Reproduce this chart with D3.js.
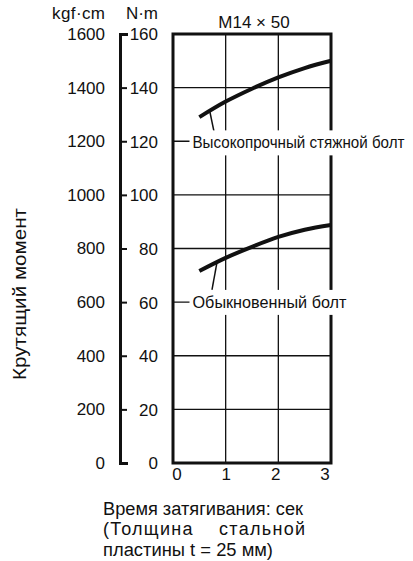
<!DOCTYPE html>
<html><head><meta charset="utf-8">
<script src="https://cdn.jsdelivr.net/npm/d3@7"></script>
<style>body{margin:0;background:#fff}svg{display:block}text{font-family:"Liberation Sans",Arial,sans-serif;fill:#111}</style>
</head><body><svg id="c" width="413" height="561"></svg>
<script>
const times = [0.5, 1, 1.5, 2, 2.5, 3];
const highStrength = [129, 134.8, 139.6, 143.8, 147.3, 150];
const ordinary = [71.6, 76.5, 80.6, 84.3, 87, 88.8];
const nmTicks = [0, 20, 40, 60, 80, 100, 120, 140, 160];
const kgfTicks = [0, 200, 400, 600, 800, 1000, 1200, 1400, 1600];
const xTicks = [0, 1, 2, 3];
const seriesLabels = ["Высокопрочный стяжной болт", "Обыкновенный болт"];
const labelPos = [{t: 0.37, v: 119.5, from: [0.7, 131], to: [0.78, 123.5]},
                  {t: 0.37, v: 60, from: [0.83, 74.3], to: [0.74, 64.6]}];
const title = "M14 × 50";
const yTitle = "Крутящий момент";
const xTitleLines = ["Время затягивания: сек", "(Толщина    стальной", "пластины t = 25 мм)"];

const FS = "17px";
const svg = d3.select("#c");
const x = d3.scaleLinear().domain([0, 3]).range([173, 331]);
const y = d3.scaleLinear().domain([0, 160]).range([463, 34]);
const yK = d3.scaleLinear().domain([0, 1600]).range([463, 34]);

// grid
const g = svg.append("g");
g.selectAll(".gx").data([1, 2]).join("line")
  .attr("x1", d => x(d)).attr("x2", d => x(d)).attr("y1", y(0)).attr("y2", y(160))
  .attr("stroke", "#111").attr("stroke-width", 1.3);
g.selectAll(".gy").data(nmTicks.filter(d => d > 0 && d < 160)).join("line")
  .attr("x1", x(0)).attr("x2", x(3)).attr("y1", d => y(d)).attr("y2", d => y(d))
  .attr("stroke", "#111").attr("stroke-width", 1.3);
g.append("rect").attr("x", x(0)).attr("y", y(160)).attr("width", x(3) - x(0)).attr("height", y(0) - y(160))
  .attr("fill", "none").attr("stroke", "#111").attr("stroke-width", 3);

// left axis
const ax = svg.append("g").attr("transform", "translate(120,0)")
  .call(d3.axisRight(y).tickValues(nmTicks).tickSizeInner(7).tickSizeOuter(8).tickFormat(d3.format("d")));
ax.select(".domain").attr("stroke", "#111").attr("stroke-width", 3);
ax.selectAll(".tick line").attr("stroke", "#111").attr("stroke-width", 2);
ax.selectAll(".tick text").attr("x", 38).attr("text-anchor", "end").attr("dy", "0.35em")
  .style("font-size", FS).style("font-family", '"Liberation Sans",Arial,sans-serif').attr("fill", "#111");

svg.append("g").selectAll("text").data(kgfTicks).join("text")
  .attr("x", 105).attr("y", d => yK(d)).attr("dy", "0.35em").attr("text-anchor", "end")
  .style("font-size", FS).text(d => d);

svg.append("text").attr("x", 105).attr("y", 19).attr("text-anchor", "end").style("font-size", FS)
  .attr("textLength", 53).text("kgf·cm");
svg.append("text").attr("x", 158).attr("y", 19).attr("text-anchor", "end").style("font-size", FS).text("N·m");
svg.append("text").attr("x", 254).attr("y", 28).attr("text-anchor", "middle").style("font-size", FS).text(title);

// x tick labels
const xl = d3.scaleLinear().domain([0, 3]).range([x(0) + 4, x(3) - 6]);
svg.append("g").selectAll("text").data(xTicks).join("text")
  .attr("x", d => xl(d)).attr("y", 480).attr("text-anchor", "middle").style("font-size", FS).text(d => d);

// y title
svg.append("text").attr("transform", "translate(26,294) rotate(-90)").attr("text-anchor", "middle")
  .style("font-size", "18px").attr("textLength", 172).attr("lengthAdjust", "spacingAndGlyphs").text(yTitle);

// x title
const xtLen = [200, 202, 170];
const xtAdj = ["spacingAndGlyphs", "spacing", "spacingAndGlyphs"];
svg.append("g").selectAll("text").data(xTitleLines).join("text")
  .attr("x", 103).attr("y", (d, i) => [515, 535, 556][i]).style("font-size", "18px").style("white-space", "pre")
  .attr("textLength", (d, i) => xtLen[i]).attr("lengthAdjust", (d, i) => xtAdj[i]).text(d => d);

// curves
const line = d3.line().x(d => x(d[0])).y(d => y(d[1])).curve(d3.curveMonotoneX);
[highStrength, ordinary].forEach(vals => {
  svg.append("path").datum(times.map((t, i) => [t, vals[i]])).attr("d", line)
    .attr("fill", "none").attr("stroke", "#111").attr("stroke-width", 4).attr("stroke-linecap", "butt");
});

// labels with white boxes and leaders
const labLens = [212, 154];
labelPos.forEach((p, i) => {
  svg.append("line").attr("x1", x(p.from[0])).attr("y1", y(p.from[1])).attr("x2", x(p.to[0])).attr("y2", y(p.to[1]))
    .attr("stroke", "#111").attr("stroke-width", 1.5);
  const lg = svg.append("g");
  const r = lg.append("rect").attr("fill", "#fff");
  const t = lg.append("text").attr("x", x(p.t)).attr("y", y(p.v)).attr("dy", "0.35em")
    .style("font-size", "16.5px").attr("textLength", labLens[i]).attr("lengthAdjust", "spacingAndGlyphs").text(seriesLabels[i]);
  const b = t.node().getBBox();
  r.attr("x", b.x - 3).attr("y", b.y - 3).attr("width", b.width + 6).attr("height", b.height + 7);
});
</script></body></html>
